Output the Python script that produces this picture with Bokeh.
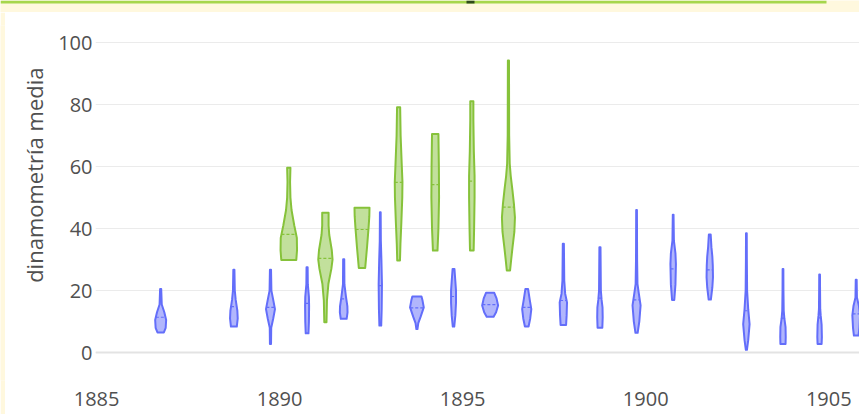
import numpy as np
from bokeh.plotting import figure
from bokeh.layouts import column, row
from bokeh.models import Range1d, FixedTicker, Span
from bokeh.embed import file_html
from bokeh.resources import INLINE

# ---------------- data ----------------
x_ticks = [1885, 1890, 1895, 1900, 1905]
y_ticks = [0, 20, 40, 60, 80, 100]
y_title = "dinamometría media"

# series A (blue)
a_years = [1887, 1889, 1890, 1891, 1892, 1893, 1894, 1895, 1896, 1897,
           1898, 1899, 1900, 1901, 1902, 1903, 1904, 1905, 1906]
a_means = [11.4, 14.8, 14.6, 15.9, 17.3, 21.6, 14.4, 18.1, 15.5, 14.6,
           16.8, 17.6, 17.0, 27.0, 26.7, 13.5, 11.1, 11.2, 12.5]
a_values = [
    [6.5, 8, 10.5, 13, 15.5, 20.5],
    [8.4, 11, 13.5, 17, 20, 26.7],
    [2.8, 8, 11, 14, 17, 20, 26.7],
    [6.2, 10, 15, 18, 22, 27.5],
    [10.9, 13, 15, 18, 22, 30.1],
    [8.7, 14, 22, 30, 36, 45.3],
    [7.6, 9.5, 11.5, 14.6, 17, 18.1],
    [8.4, 12, 16, 20, 23, 27],
    [11.6, 13, 15.2, 17.5, 19.3],
    [8.4, 11, 14, 17, 20.5],
    [8.9, 12, 16.2, 19, 23.2, 35.1],
    [8, 11.4, 14.6, 17, 20, 34],
    [6.4, 10, 15.2, 19, 22.2, 30, 46],
    [17, 22, 28.6, 32, 36.1, 44.5],
    [17.1, 21, 24.3, 28, 31, 34, 38.1],
    [0.9, 4, 9.2, 14, 20, 30, 38.5],
    [2.8, 5, 8.2, 11, 13.5, 20, 27],
    [2.8, 5, 9, 12, 14, 20, 25.2],
    [5.5, 8, 12, 15, 17.8, 23.5],
]
a_density = [
    [0.35, 0.55, 0.6, 0.4, 0.12, 0.06],
    [0.32, 0.42, 0.38, 0.2, 0.1, 0.06],
    [0.06, 0.08, 0.3, 0.49, 0.3, 0.1, 0.06],
    [0.15, 0.2, 0.22, 0.2, 0.08, 0.06],
    [0.32, 0.42, 0.4, 0.25, 0.08, 0.06],
    [0.1, 0.15, 0.18, 0.12, 0.06, 0.04],
    [0.06, 0.15, 0.4, 0.75, 0.6, 0.5],
    [0.08, 0.2, 0.27, 0.27, 0.2, 0.1],
    [0.38, 0.65, 0.87, 0.7, 0.45],
    [0.2, 0.38, 0.5, 0.33, 0.15],
    [0.3, 0.36, 0.4, 0.2, 0.1, 0.06],
    [0.26, 0.3, 0.28, 0.18, 0.1, 0.06],
    [0.12, 0.3, 0.44, 0.25, 0.1, 0.06, 0.04],
    [0.12, 0.25, 0.3, 0.25, 0.08, 0.04],
    [0.12, 0.28, 0.35, 0.33, 0.28, 0.18, 0.1],
    [0.06, 0.2, 0.35, 0.2, 0.08, 0.05, 0.04],
    [0.28, 0.3, 0.28, 0.15, 0.08, 0.05, 0.04],
    [0.22, 0.25, 0.22, 0.12, 0.07, 0.05, 0.04],
    [0.25, 0.35, 0.42, 0.3, 0.08, 0.05],
]

# series B (green)
b_years = [1890, 1891, 1892, 1893, 1894, 1895, 1896]
b_means = [38.1, 30.4, 39.7, 54.9, 54.2, 55.3, 46.9]
b_values = [
    [29.9, 33, 37, 41, 46, 50, 55, 59.6],
    [9.8, 16.8, 22.2, 27, 30, 33, 38, 41, 45.1],
    [27.3, 34, 40.4, 44, 46.7],
    [29.7, 35, 42, 50, 55, 60, 70, 79.1],
    [32.9, 40, 50, 60, 70.5],
    [32.9, 40, 50, 57, 65, 75, 81.1],
    [26.5, 30, 34, 39, 43.6, 48, 52.3, 57, 61, 70, 94.2],
]
b_density = [
    [0.82, 0.9, 0.88, 0.6, 0.3, 0.18, 0.14, 0.18],
    [0.12, 0.17, 0.33, 0.65, 0.78, 0.7, 0.42, 0.35, 0.35],
    [0.35, 0.55, 0.72, 0.8, 0.82],
    [0.15, 0.2, 0.3, 0.4, 0.42, 0.35, 0.22, 0.17],
    [0.25, 0.35, 0.42, 0.4, 0.35],
    [0.2, 0.25, 0.3, 0.3, 0.22, 0.17, 0.17],
    [0.18, 0.3, 0.45, 0.65, 0.71, 0.6, 0.44, 0.25, 0.14, 0.08, 0.06],
]

# ---------------- styling ----------------
BLUE = "#636EFA"
GREEN = "#86C23A"
TEXT = "#505050"
FONT = "Open Sans"
CREAM = "#FFF8DE"
BAR = "#A6D64C"
GROUP_OFFSET = 0.25   # years, dodge of each series
HALF_WIDTH = 0.25     # years, half width at density 1

PAGE_W, PAGE_H = 859, 414
TOP_H, LEFT_W = 12, 5
W, H = PAGE_W - LEFT_W, PAGE_H - TOP_H       # main figure size
FL, FT, FB = 90, 13, 368                     # frame edges in main-figure pixels


def strip(width, height):
    f = figure(width=width, height=height, output_backend="svg",
               toolbar_location=None, x_axis_location=None, y_axis_location=None,
               x_range=Range1d(0, width), y_range=Range1d(height, 0),
               min_border=0)
    f.background_fill_color = CREAM
    f.border_fill_color = CREAM
    f.outline_line_color = None
    f.grid.visible = False
    return f


top = strip(PAGE_W, TOP_H)
top.quad(left=0, right=826, top=0, bottom=3, fill_color=BAR, line_color=None)
top.quad(left=466, right=474, top=0, bottom=3, fill_color="#2E4A1A", line_color=None)
left = strip(LEFT_W, H)

p = figure(width=W, height=H, output_backend="svg", toolbar_location=None,
           x_range=Range1d(1884.97, 1905.84), y_range=Range1d(-9.0, 105.5),
           min_border_left=FL, min_border_right=0, min_border_top=FT,
           min_border_bottom=H - FB, title=y_title, title_location="left")
p.background_fill_color = "white"
p.border_fill_color = "white"
p.outline_line_color = None

p.title.align = "right"
p.title.offset = 42
p.title.vertical_align = "top"
p.title.standoff = 10
p.title.text_font = FONT
p.title.text_font_size = "22px"
p.title.text_font_style = "normal"
p.title.text_color = TEXT

p.xgrid.grid_line_color = None
p.ygrid.grid_line_color = "#EBEBEB"
p.ygrid.grid_line_width = 1
p.ygrid.ticker = FixedTicker(ticks=y_ticks)
p.add_layout(Span(location=0, dimension="width", line_color="#E3E3E3", line_width=2))

for ax in (p.xaxis[0], p.yaxis[0]):
    ax.axis_line_color = None
    ax.major_tick_line_color = None
    ax.minor_tick_line_color = None
    ax.major_tick_out = 0
    ax.major_tick_in = 0
    ax.minor_tick_out = 0
    ax.major_label_text_font = FONT
    ax.major_label_text_font_size = "20px"
    ax.major_label_text_color = TEXT

p.xaxis.ticker = FixedTicker(ticks=x_ticks)
p.xaxis.major_label_standoff = 11
p.yaxis.ticker = FixedTicker(ticks=y_ticks)
p.yaxis.major_label_standoff = 3


def draw(years, means, values, density, offset, color):
    xs, ys, mx0, mx1, my = [], [], [], [], []
    for yr, m, v, d in zip(years, means, values, density):
        pos = yr + offset
        v = np.asarray(v, float)
        d = np.asarray(d, float) * HALF_WIDTH
        xs.append(list(pos + d) + list((pos - d)[::-1]))
        ys.append(list(v) + list(v[::-1]))
        w = float(np.interp(m, v, d))
        mx0.append(pos - w)
        mx1.append(pos + w)
        my.append(m)
    p.patches(xs, ys, fill_color=color, fill_alpha=0.5, line_color=color,
              line_width=2, line_join="round")
    p.segment(x0=mx0, y0=my, x1=mx1, y1=my, line_color=color, line_width=1.2,
              line_dash="3 2")


draw(a_years, a_means, a_values, a_density, -GROUP_OFFSET, BLUE)
draw(b_years, b_means, b_values, b_density, GROUP_OFFSET, GREEN)

page = column(top, row(left, p, spacing=0), spacing=0)

open("out.html", "w").write(file_html(page, INLINE))
